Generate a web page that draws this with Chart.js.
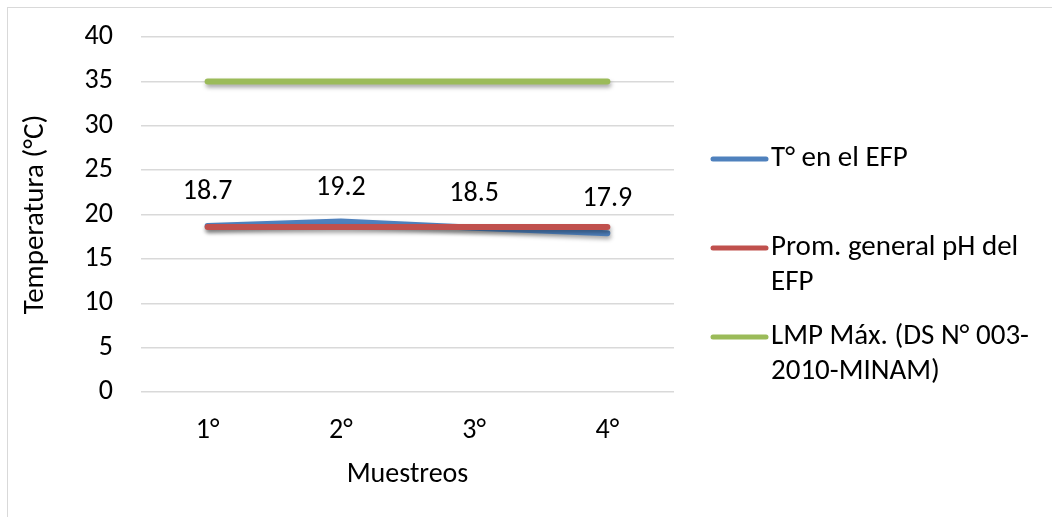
<!DOCTYPE html>
<html>
<head>
<meta charset="utf-8">
<script src="https://cdn.jsdelivr.net/npm/chart.js@4.4.1/dist/chart.umd.min.js"></script>
<style>
  html, body { margin: 0; padding: 0; background: #fff; }
  #wrap { position: relative; width: 1052px; height: 517px; overflow: hidden; }
  #frame { position: absolute; left: 7px; top: 7px; width: 1100px; height: 600px; border: 1px solid #D9D9D9; }
  #chart { position: absolute; left: 0; top: 0; }
</style>
</head>
<body>
<div id="wrap">
  <div id="frame"></div>
  <canvas id="chart" width="1052" height="517"></canvas>
</div>
<script>
// data
const muestreos = ['1°', '2°', '3°', '4°'];
const tempEFP = [18.7, 19.2, 18.5, 17.9];
const promGeneral = [18.6, 18.6, 18.6, 18.6];
const lmpMax = [35, 35, 35, 35];
const seriesNames = [
    ['T° en el EFP'],
    ['Prom. general pH del', 'EFP'],
    ['LMP Máx. (DS N° 003-', '2010-MINAM)']
];
const seriesColors = ['#4F81BD', '#C0504D', '#9BBB59'];

const FONT = 'Carlito, Lato, sans-serif';
const FS = 28;

// drop shadow under the lines + value labels over the blue series
const linePlugin = {
    id: 'lineExtras',
    beforeDatasetsDraw(chart) {
        const ctx = chart.ctx;
        ctx.save();
        ctx.shadowColor = 'rgba(0,0,0,0.35)';
        ctx.shadowBlur = 4;
        ctx.shadowOffsetY = 3;
        ctx.shadowOffsetX = 1;
    },
    afterDatasetsDraw(chart) {
        const ctx = chart.ctx;
        ctx.restore();
        const meta = chart.getDatasetMeta(0);
        ctx.save();
        ctx.font = `${FS}px ${FONT}`;
        ctx.fillStyle = '#000';
        ctx.textAlign = 'center';
        ctx.textBaseline = 'middle';
        meta.data.forEach((pt, i) => {
            ctx.fillText(tempEFP[i].toFixed(1), pt.x, pt.y - 34);
        });
        ctx.restore();
    }
};

// legend on the right, Excel style
const legendPlugin = {
    id: 'sideLegend',
    afterDraw(chart) {
        const ctx = chart.ctx;
        const rows = [159, 248, 337];
        ctx.save();
        ctx.font = `29px ${FONT}`;
        ctx.textBaseline = 'middle';
        ctx.textAlign = 'left';
        seriesNames.forEach((lines, i) => {
            const y = rows[i];
            ctx.strokeStyle = seriesColors[i];
            ctx.lineWidth = 5;
            ctx.lineCap = 'round';
            ctx.beginPath();
            ctx.moveTo(713, y);
            ctx.lineTo(766, y);
            ctx.stroke();
            ctx.fillStyle = '#000';
            lines.forEach((t, j) => ctx.fillText(t, 771, y + j * 35));
        });
        ctx.restore();
    }
};

const ctx = document.getElementById('chart').getContext('2d');
new Chart(ctx, {
    type: 'line',
    data: {
        labels: muestreos,
        datasets: [
            { label: seriesNames[0].join(' '), data: tempEFP, borderColor: seriesColors[0], order: 2 },
            { label: seriesNames[1].join(' '), data: promGeneral, borderColor: seriesColors[1], order: 1 },
            { label: seriesNames[2].join(' '), data: lmpMax, borderColor: seriesColors[2], order: 0 }
        ]
    },
    options: {
        responsive: false,
        animation: false,
        layout: {
            padding: { left: 0, top: 37, right: 378, bottom: 0 }
        },
        elements: {
            line: { borderWidth: 6, borderCapStyle: 'round', borderJoinStyle: 'round', tension: 0 },
            point: { radius: 0, hoverRadius: 0 }
        },
        plugins: {
            legend: { display: false },
            tooltip: { enabled: false }
        },
        scales: {
            x: {
                offset: true,
                grid: { display: false, drawTicks: false },
                border: { display: false },
                ticks: { color: '#000', padding: 22, font: { family: FONT, size: FS, lineHeight: 1.2 } },
                title: {
                    display: true, text: 'Muestreos', color: '#000',
                    padding: { top: 0, bottom: 25 },
                    font: { family: FONT, size: FS, lineHeight: 1.2 }
                },
                afterFit: s => { s.height = 125; }
            },
            y: {
                min: 0,
                max: 40,
                grid: { color: '#D9D9D9', lineWidth: 1.5, drawTicks: false },
                border: { display: false },
                ticks: { stepSize: 5, color: '#000', padding: 28, font: { family: FONT, size: FS, lineHeight: 1.2 } },
                title: {
                    display: true, text: 'Temperatura (°C)', color: '#000',
                    padding: { top: 18, bottom: 0 },
                    font: { family: FONT, size: 29, lineHeight: 1.2 }
                },
                afterFit: s => {
                    s.width = 141;
                    s.paddingTop = 0;
                    s.paddingBottom = 0;
                }
            }
        }
    },
    plugins: [linePlugin, legendPlugin]
});
</script>
</body>
</html>
